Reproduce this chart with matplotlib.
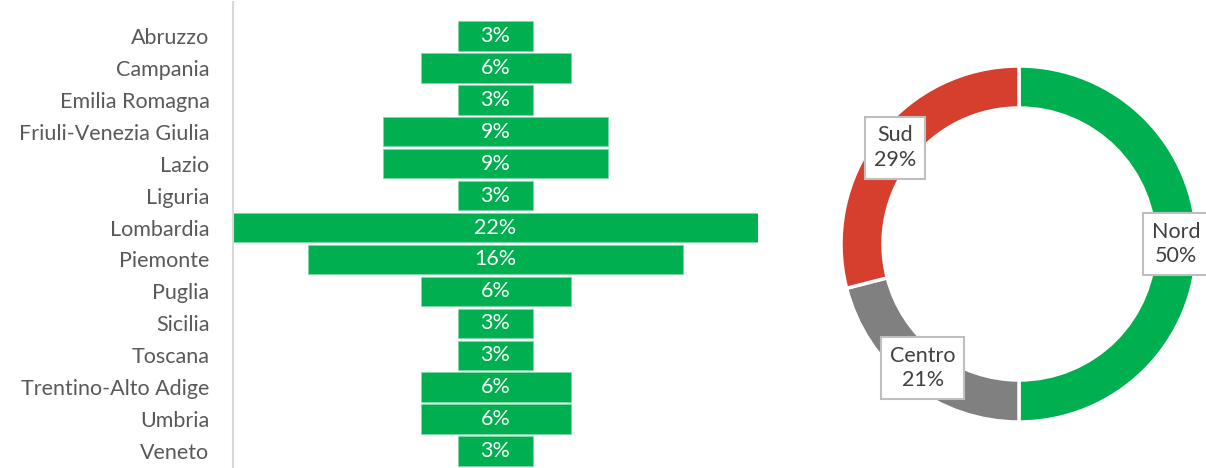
import matplotlib

matplotlib.use("Agg")
import matplotlib.pyplot as plt
import numpy as np

# Regional distribution (counts out of the full sample)
REGIONS = [
    "Abruzzo", "Campania", "Emilia Romagna", "Friuli-Venezia Giulia", "Lazio",
    "Liguria", "Lombardia", "Piemonte", "Puglia", "Sicilia", "Toscana",
    "Trentino-Alto Adige", "Umbria", "Veneto",
]
REGION_COUNTS = [1, 2, 1, 3, 3, 1, 7, 5, 2, 1, 1, 2, 2, 1]

# Macro-area split
AREAS = ["Nord", "Centro", "Sud"]
AREA_PCT = [50, 21, 29]

GREEN = "#00B050"
AREA_COLORS = [GREEN, "#808080", "#D63F2D"]
TEXT = "#595959"

plt.rcParams["font.family"] = ["Lato", "DejaVu Sans"]

fig = plt.figure(figsize=(12.06, 4.68), dpi=100)

# ---------------------------------------------------------------------------
# Centered bar chart (funnel style)
# ---------------------------------------------------------------------------
shares = np.array(REGION_COUNTS) / sum(REGION_COUNTS) * 100
ax = fig.add_axes([233 / 1206, 1 / 468, 525 / 1206, 447 / 468])
y = np.arange(len(REGIONS))
ax.barh(y, shares, left=-shares / 2, height=0.92, color=GREEN,
        edgecolor="#7fd8a8", linewidth=0.6)
for yi, s in zip(y, shares):
    ax.text(0, yi, f"{s:.0f}%", ha="center", va="center",
            color="white", fontsize=15.5)

half = shares.max() / 2
ax.set_xlim(-half, half)
ax.set_ylim(len(REGIONS) - 0.5, -0.5)
ax.set_yticks(y)
ax.set_yticklabels(REGIONS, fontsize=15.5, color=TEXT)
ax.tick_params(axis="y", length=0, pad=17)
ax.set_xticks([])
for side in ("top", "right", "bottom"):
    ax.spines[side].set_visible(False)
ax.spines["left"].set_color("#d9d9d9")
ax.spines["left"].set_linewidth(1.5)
ax.spines["left"].set_bounds(-1.05, len(REGIONS) - 0.5)

# ---------------------------------------------------------------------------
# Donut chart
# ---------------------------------------------------------------------------
dax = fig.add_axes([819 / 1206, 24 / 468, 400 / 1206, 400 / 468])
outer_r = 0.89
ring_w = 0.21
wedges, _ = dax.pie(
    AREA_PCT,
    colors=AREA_COLORS,
    startangle=90,
    counterclock=False,
    radius=outer_r,
    wedgeprops=dict(width=ring_w, edgecolor="white", linewidth=2.5),
)
dax.set_xlim(-1, 1)
dax.set_ylim(-1, 1)
dax.set_aspect("equal")

mid_r = outer_r - ring_w / 2
cum = np.cumsum([0] + AREA_PCT)
for name, pct, start in zip(AREAS, AREA_PCT, cum[:-1]):
    ang = np.deg2rad(90 - 360 * (start + pct / 2) / 100)
    dax.text(
        mid_r * np.cos(ang), mid_r * np.sin(ang), f"{name}\n{pct}%",
        ha="center", va="center", fontsize=15.5, color="#404040",
        linespacing=1.3, clip_on=False,
        bbox=dict(boxstyle="square,pad=0.4", facecolor="white",
                  edgecolor="#bfbfbf", linewidth=1.5),
    )

fig.savefig("out.png", dpi=100, facecolor="white")
